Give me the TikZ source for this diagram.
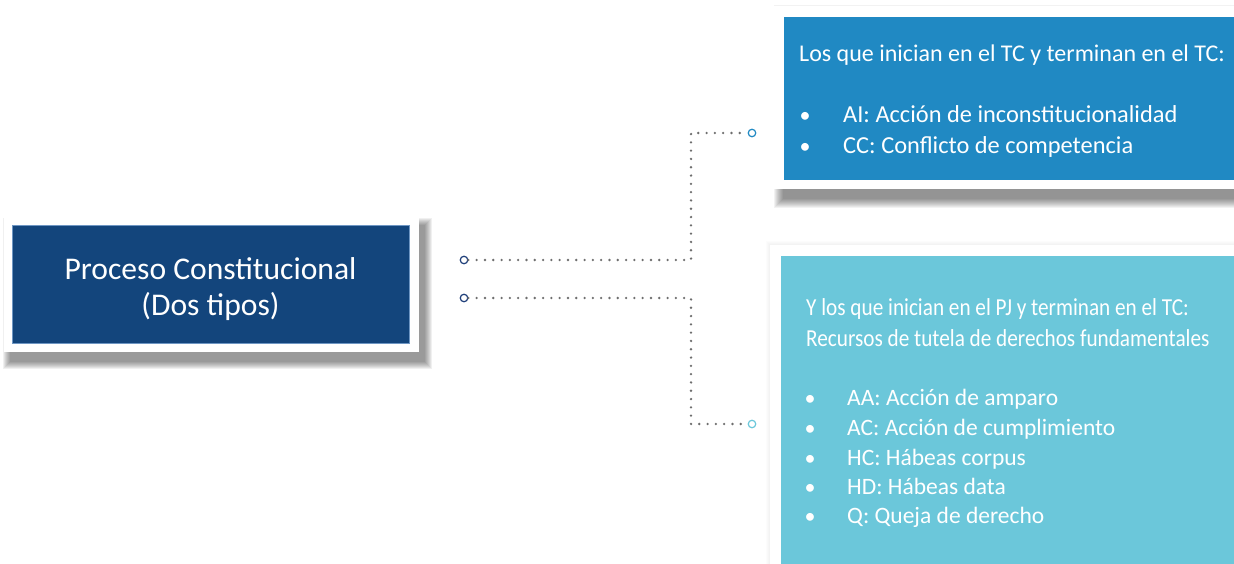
\documentclass[tikz,border=0pt]{standalone}
\usepackage{fontspec}
\setmainfont{Carlito}
\newfontfamily\condfont{Carlito}[FakeStretch=0.87]
\definecolor{navy}{RGB}{19,69,124}
\definecolor{navyedge}{RGB}{110,150,195}
\definecolor{tcblue}{RGB}{32,137,195}
\definecolor{pjcyan}{RGB}{107,199,218}
\definecolor{dotgray}{RGB}{110,110,110}
\definecolor{ringnavy}{RGB}{31,63,122}
% soft shadow: x1 y1 x2 y2 (y downward), blur steps, opacity per step
\newcommand\mkshadow[6]{%
  \foreach \k in {1,...,#5}{%
    \fill[black,opacity=#6] (#1-#5+\k,#2-#5+\k) rectangle (#3+#5-\k,#4+#5-\k);}}
\begin{document}
\begin{tikzpicture}[x=1pt,y=-1pt,
  frame/.style={fill=white, inner sep=0pt, outer sep=0pt},
  panel/.style={inner sep=0pt, outer sep=0pt},
  txt/.style={anchor=base west, text=white, inner sep=0pt, font=\fontsize{24.4}{30}\selectfont},
  htxt/.style={anchor=base west, text=white, inner sep=0pt, font=\fontsize{24}{30}\selectfont},
  ltxt/.style={anchor=base west, text=white, inner sep=0pt, font=\fontsize{23.5}{30}\selectfont},
  ctxt/.style={anchor=base west, text=white, inner sep=0pt, font=\condfont\fontsize{24.4}{30}\selectfont},
  bul/.style={anchor=base, text=white, inner sep=0pt, font=\fontsize{22}{30}\selectfont},
  ring/.style={circle, draw=#1, line width=1.2pt, fill=white, minimum size=7.5pt, inner sep=0pt},
  dots/.style={draw=dotgray, line width=2.6pt, line cap=round, dash pattern=on 0pt off 8.3pt}
]
\useasboundingbox (0,0) rectangle (1234,564);
\fill[white] (0,0) rectangle (1234,564);

% shadows
\mkshadow{10}{225}{425}{362}{8}{0.06}
\mkshadow{783}{14}{1244}{199}{10}{0.05}
\mkshadow{770}{245}{1240}{570}{5}{0.012}

% main box
\node[frame, minimum width=415pt, minimum height=137pt] (mainframe) at (211.5,283.5) {};
\node[panel, fill=navy, draw=navyedge, line width=0.6pt, minimum width=397pt, minimum height=118pt] (main) at (210.5,284) {};
\node[text=white, align=center, inner sep=0pt, font=\fontsize{31.6}{36}\selectfont] (maintext) at (210.5,289) {Proceso Constitucional\\(Dos tipos)};

% top box
\node[frame, minimum width=467pt, minimum height=183pt] (tcframe) at (1006.5,97.5) {};
\node[panel, fill=tcblue, minimum width=456pt, minimum height=163pt] (tc) at (1012,98.5) {};
\node[htxt] (tch) at (799,62) {Los que inician en el TC y terminan en el TC:};
\node[bul] (tcb1) at (805,123) {•};
\node[txt] (tc1) at (843,123) {AI: Acción de inconstitucionalidad};
\node[bul] (tcb2) at (805,154) {•};
\node[txt] (tc2) at (843,154) {CC: Conflicto de competencia};

% bottom box
\node[frame, minimum width=470pt, minimum height=325pt] (pjframe) at (1005,407.5) {};
\node[panel, fill=pjcyan, minimum width=459pt, minimum height=314pt] (pj) at (1010.5,413) {};
\node[ctxt] (pjh1) at (806,315) {Y los que inician en el PJ y terminan en el TC:};
\node[ctxt] (pjh2) at (806,346) {Recursos de tutela de derechos fundamentales};
\node[bul] (pjb1) at (810,405) {•};
\node[ltxt] (pj1) at (847,405) {AA: Acción de amparo};
\node[bul] (pjb2) at (810,435) {•};
\node[ltxt] (pj2) at (847,435) {AC: Acción de cumplimiento};
\node[bul] (pjb3) at (810,465) {•};
\node[ltxt] (pj3) at (847,465) {HC: Hábeas corpus};
\node[bul] (pjb4) at (810,494) {•};
\node[ltxt] (pj4) at (847,494) {HD: Hábeas data};
\node[bul] (pjb5) at (810,523) {•};
\node[ltxt] (pj5) at (847,523) {Q: Queja de derecho};

% connectors
\coordinate (j) at (691,0);
\node[ring=ringnavy] (l1) at (464,260) {};
\node[ring=ringnavy] (l2) at (464,298) {};
\node[ring=tcblue] (r1) at (752,133) {};
\node[ring=pjcyan] (r2) at (752,424) {};
\draw[dots] (l1) -- (l1 -| j) |- (r1);
\draw[dots] (l2) -- (l2 -| j) |- (r2);
\end{tikzpicture}
\end{document}
